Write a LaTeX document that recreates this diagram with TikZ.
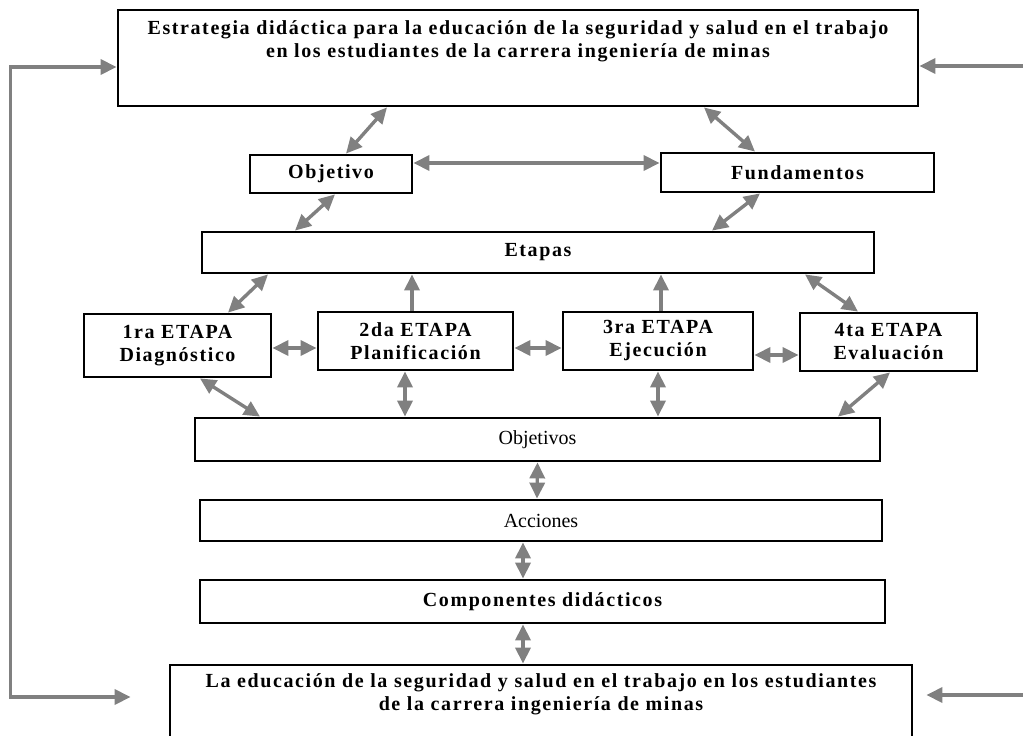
\documentclass[tikz,border=0pt]{standalone}
\usepackage{fontspec}
\setmainfont{Liberation Serif}
\newfontfamily\widefont[LetterSpace=8]{Liberation Serif}
\usepackage{xcolor}
\usetikzlibrary{arrows.meta}
\definecolor{linkgray}{RGB}{128,128,128}

\begin{document}
\begin{tikzpicture}[x=1pt,y=-1pt,
  box/.style={draw,line width=2.8pt,inner sep=0pt,align=center,font=\widefont\bfseries\fontsize{20}{23}\selectfont},
  plainbox/.style={box,font=\fontsize{20}{23}\selectfont},
  txt/.style={inner sep=0pt,align=center,font=\widefont\bfseries\fontsize{20}{23}\selectfont},
  twoway/.style={draw=linkgray,line width=3.4pt,{Triangle[length=16pt,width=15pt]}-{Triangle[length=16pt,width=15pt]}},
  oneway/.style={draw=linkgray,line width=3.4pt,-{Triangle[length=16pt,width=15pt]}}]
\useasboundingbox (0,0) rectangle (1023,736);

\node [box,minimum width=800,minimum height=96] (top) at (518,58) {};
\node [txt] (toptxt) at (518,41.5) {Estrategia didáctica para la educación de la seguridad y salud en el trabajo\\en los estudiantes de la carrera ingeniería de minas};
\node [box,minimum width=162,minimum height=38] (obj) at (331,174) {Objetivo};
\node [box,minimum width=273,minimum height=39] (fund) at (797.5,172.5) {Fundamentos};
\node [box,minimum width=672,minimum height=41] (etapas) at (538,252.5) {Etapas};
\node [box,minimum width=187,minimum height=63] (s1) at (177.5,345.5) {1ra ETAPA\\Diagnóstico};
\node [box,minimum width=195,minimum height=58] (s2) at (415.5,341) {2da ETAPA\\Planificación};
\node [box,minimum width=190,minimum height=58] (s3) at (658,341) {3ra ETAPA\\Ejecución};
\node [box,minimum width=177,minimum height=58] (s4) at (888.5,342) {4ta ETAPA\\Evaluación};
\node [plainbox,minimum width=685,minimum height=43] (objs) at (537.5,439.5) {Objetivos};
\node [plainbox,minimum width=682,minimum height=41] (acc) at (541,520.5) {Acciones};
\node [box,minimum width=685,minimum height=43] (comp) at (542.5,601.5) {Componentes didácticos};
\node [box,minimum width=742,minimum height=80] (bot) at (541,705) {};
\node [txt] (bottxt) at (541,694.5) {La educación de la seguridad y salud en el trabajo en los estudiantes\\de la carrera ingeniería de minas};

\draw [twoway] ([xshift=-131pt]top.south) -- ([xshift=15pt]obj.north);
\draw [twoway] ([xshift=186pt]top.south) -- ([xshift=-42.5pt]fund.north);
\draw [twoway] ([yshift=11pt]obj.east) -- ([yshift=9.5pt]fund.west);
\draw [twoway] ([xshift=4pt]obj.south) -- ([xshift=-243pt]etapas.north);
\draw [twoway] ([xshift=-37.5pt]fund.south) -- ([xshift=174pt]etapas.north);
\draw [twoway] ([xshift=-270pt]etapas.south) -- ([xshift=50.5pt]s1.north);
\draw [oneway] ([xshift=-3.5pt]s2.north) -- ([xshift=-3.5pt]s2.north |- etapas.south);
\draw [oneway] ([xshift=3pt]s3.north) -- ([xshift=3pt]s3.north |- etapas.south);
\draw [twoway] ([xshift=267pt]etapas.south) -- ([xshift=-30.5pt]s4.north);
\draw [twoway] ([yshift=-2.5pt]s1.east) -- ([yshift=-7pt]s2.west);
\draw [twoway] ([yshift=-7pt]s2.east) -- ([yshift=-7pt]s3.west);
\draw [twoway] ([yshift=-14pt]s3.east) -- ([yshift=-13pt]s4.west);
\draw [twoway] ([xshift=22.5pt]s1.south) -- ([xshift=-277.5pt]objs.north);
\draw [twoway] ([xshift=-10.5pt]s2.south) -- ([xshift=-10.5pt]s2.south |- objs.north);
\draw [twoway] (s3.south) -- (s3.south |- objs.north);
\draw [twoway] ([xshift=1.5pt]s4.south) -- ([xshift=300.5pt]objs.north);
\draw [twoway] (objs.south) -- ([xshift=-4pt]acc.north);
\draw [twoway] ([xshift=-18pt]acc.south) -- ([xshift=-19.5pt]comp.north);
\draw [twoway] ([xshift=-19.5pt]comp.south) -- ([xshift=-18pt]bot.north);
\draw [twoway,shorten <=38pt] ([yshift=8pt]bot.west) -- ++(-158,0) |- ([yshift=-9pt]top.west);
\coordinate (rtop) at (1023,66);
\draw [oneway] (rtop) -- (rtop -| top.east);
\coordinate (rbot) at (1023,695);
\draw [oneway,shorten >=13pt] (rbot) -- (rbot -| bot.east);
\end{tikzpicture}
\end{document}
